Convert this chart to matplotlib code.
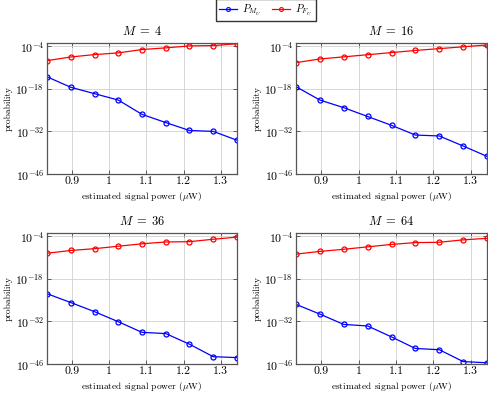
import matplotlib
matplotlib.use("Agg")
import matplotlib.pyplot as plt
import numpy as np
from matplotlib.lines import Line2D

plt.rcParams['font.family'] = 'serif'
plt.rcParams['font.serif'] = ['cmr10']
plt.rcParams['mathtext.fontset'] = 'cm'
plt.rcParams['axes.formatter.use_mathtext'] = True

power = [0.832, 0.896, 0.960, 1.024, 1.088, 1.152, 1.216, 1.280, 1.344]
titles = [r"$M\;=\;4$", r"$M\;=\;16$", r"$M\;=\;36$", r"$M\;=\;64$"]

# log10 values
pmu_log = [
    [-14.05, -17.5, -19.6, -21.7, -26.4, -29.1, -31.7, -32.0, -34.9],
    [-17.3, -21.7, -24.2, -27.1, -30.0, -33.2, -33.5, -36.8, -40.2],
    [-22.9, -25.8, -28.8, -32.1, -35.6, -36.0, -39.5, -43.6, -43.9],
    [-26.4, -29.6, -33.0, -33.5, -37.1, -40.9, -41.3, -45.2, -45.6],
]
pfu_log = [
    [-8.75, -7.54, -6.76, -6.2, -5.1, -4.55, -3.9, -3.8, -3.2],
    [-9.4, -8.2, -7.5, -6.8, -6.1, -5.4, -4.8, -4.2, -3.6],
    [-9.6, -8.7, -8.1, -7.3, -6.5, -5.9, -5.8, -5.0, -4.3],
    [-9.9, -9.0, -8.3, -7.5, -6.7, -6.1, -6.0, -5.2, -4.7],
]
yticks_exp = [-46, -32, -18, -4]
xticks = [0.9, 1.0, 1.1, 1.2, 1.3]
xticklabels = ["0.9", "1", "1.1", "1.2", "1.3"]

W, H = 488, 393
fig = plt.figure(figsize=(W/100, H/100), dpi=100)

boxes = [(47, 43, 237, 174), (296, 43, 487, 174), (47, 233, 237, 364), (296, 233, 487, 364)]

for i, (l, t, r, b) in enumerate(boxes):
    ax = fig.add_axes([l/W, 1-b/H, (r-l)/W, (b-t)/H])
    ax.plot(power, 10.0**np.array(pmu_log[i]), color='blue', lw=0.9, marker='o',
            ms=3.6, mfc='none', mew=0.9)
    ax.plot(power, 10.0**np.array(pfu_log[i]), color='red', lw=0.9, marker='o',
            ms=3.6, mfc='none', mew=0.9)
    ax.set_yscale('log')
    ax.set_ylim(1e-46, 10**-2.95)
    ax.set_xlim(power[0], power[-1])
    ax.set_yticks([10.0**e for e in yticks_exp])
    ax.set_yticklabels([f"$10^{{{e}}}$" for e in yticks_exp])
    ax.yaxis.set_minor_locator(matplotlib.ticker.NullLocator())
    ax.set_xticks(xticks)
    ax.set_xticklabels(xticklabels)
    ax.grid(True, color='#d0d0d0', lw=0.6)
    ax.set_axisbelow(True)
    ax.tick_params(direction='in', length=3, width=0.6, labelsize=8.5, colors='#444444',
                   labelcolor='black', pad=2, top=True, right=True)
    for s in ax.spines.values():
        s.set_color('#555555')
        s.set_linewidth(0.9)
    ax.set_title(titles[i], fontsize=9, pad=6)
    ax.set_xlabel(r"estimated signal power ($\mu$W)", fontsize=6.8, labelpad=3)
    ax.set_ylabel("probability", fontsize=6.8, labelpad=2)

handles = [Line2D([], [], color='blue', lw=0.9, marker='o', ms=2.8, mfc='none', mew=0.8),
           Line2D([], [], color='red', lw=0.9, marker='o', ms=2.8, mfc='none', mew=0.8)]
fig.legend(handles, [r"$P_{M_U}$", r"$P_{F_U}$"], loc='upper center',
           bbox_to_anchor=(266/W, 1.0 + 1.0/H), borderaxespad=0,
           ncol=2, fontsize=7.5, frameon=True, fancybox=False, edgecolor='black',
           handlelength=1.7, columnspacing=1.0, borderpad=0.35, handletextpad=0.5)

fig.savefig("out.png", dpi=100)
